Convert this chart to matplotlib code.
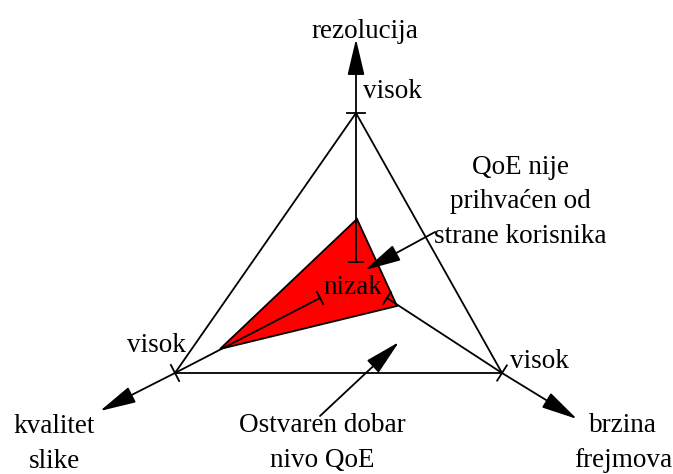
import numpy as np
import matplotlib
matplotlib.use("Agg")
import matplotlib.pyplot as plt

plt.rcParams["font.family"] = ["Liberation Serif", "DejaVu Serif"]

# axis names and level labels
axis_names = ["rezolucija", "kvalitet\nslike", "brzina\nfrejmova"]
high_label = "visok"
low_label = "nizak"

# geometry in pixel space (x right, y down)
low_points = [(356, 262), (320, 298), (387, 298)]      # "nizak" tick on each axis
high_points = [(356, 113), (175, 373), (502, 373)]     # "visok" tick = triangle corners
arrow_tips = [(356, 39), (100, 411), (577, 419)]
name_pos = [(365, 31), (54, 444), (623, 443)]
high_text_pos = [(392, 91), (156, 346), (539, 361)]
low_text_pos = (353, 287)

# achieved (unacceptable) QoE region
qoe_poly = [(357, 219), (220, 349), (397, 306)]

note_bad = "QoE nije\nprihvaćen od\nstrane korisnika"
note_bad_text = (520, 202)
note_bad_start = (435, 232)
note_bad_tip = (365, 270)

note_good = "Ostvaren dobar\nnivo QoE"
note_good_text = (322, 443)
note_good_start = (320, 416)
note_good_tip = (399, 342)

FS = 19.5
LW = 1.3
LS = 1.5

fig = plt.figure(figsize=(6.73, 4.74), dpi=100)
ax = fig.add_axes([0, 0, 1, 1])
ax.set_xlim(0, 673)
ax.set_ylim(474, 0)
ax.axis("off")

# triangle
tri = np.array(high_points + [high_points[0]])
ax.plot(tri[:, 0], tri[:, 1], color="black", lw=LW)

# red region
ax.fill([p[0] for p in qoe_poly], [p[1] for p in qoe_poly],
        facecolor="#ff0000", edgecolor="black", lw=LW, zorder=2)

arrow_kw = dict(arrowstyle="-|>,head_length=1.4,head_width=0.33",
                color="black", lw=LW, shrinkA=0, shrinkB=0)


def tick(pt, d, length):
    d = np.asarray(d, float)
    d = d / np.hypot(*d)
    n = np.array([-d[1], d[0]]) * length / 2
    ax.plot([pt[0] - n[0], pt[0] + n[0]], [pt[1] - n[1], pt[1] + n[1]],
            color="black", lw=LW, zorder=3)


for lo, hi, tip, name, npos, hpos in zip(low_points, high_points, arrow_tips,
                                          axis_names, name_pos, high_text_pos):
    ax.plot([lo[0], hi[0]], [lo[1], hi[1]], color="black", lw=LW, zorder=3)
    ax.annotate("", xy=tip, xytext=hi, arrowprops=dict(arrow_kw, mutation_scale=16))
    d = (tip[0] - lo[0], tip[1] - lo[1])
    tick(lo, d, 14)
    tick(hi, d, 18)
    ax.text(npos[0], npos[1], name, fontsize=FS, ha="center", va="center",
            linespacing=LS)
    ax.text(hpos[0], hpos[1], high_label, fontsize=FS, ha="center", va="center")

ax.text(low_text_pos[0], low_text_pos[1], low_label, fontsize=FS,
        ha="center", va="center", zorder=4)

ax.text(note_bad_text[0], note_bad_text[1], note_bad, fontsize=FS,
        ha="center", va="center", linespacing=LS)
ax.annotate("", xy=note_bad_tip, xytext=note_bad_start,
            arrowprops=dict(arrow_kw, mutation_scale=16), zorder=5)

ax.text(note_good_text[0], note_good_text[1], note_good, fontsize=FS,
        ha="center", va="center", linespacing=LS)
ax.annotate("", xy=note_good_tip, xytext=note_good_start,
            arrowprops=dict(arrow_kw, mutation_scale=16), zorder=5)

fig.savefig("out.png", dpi=100)
